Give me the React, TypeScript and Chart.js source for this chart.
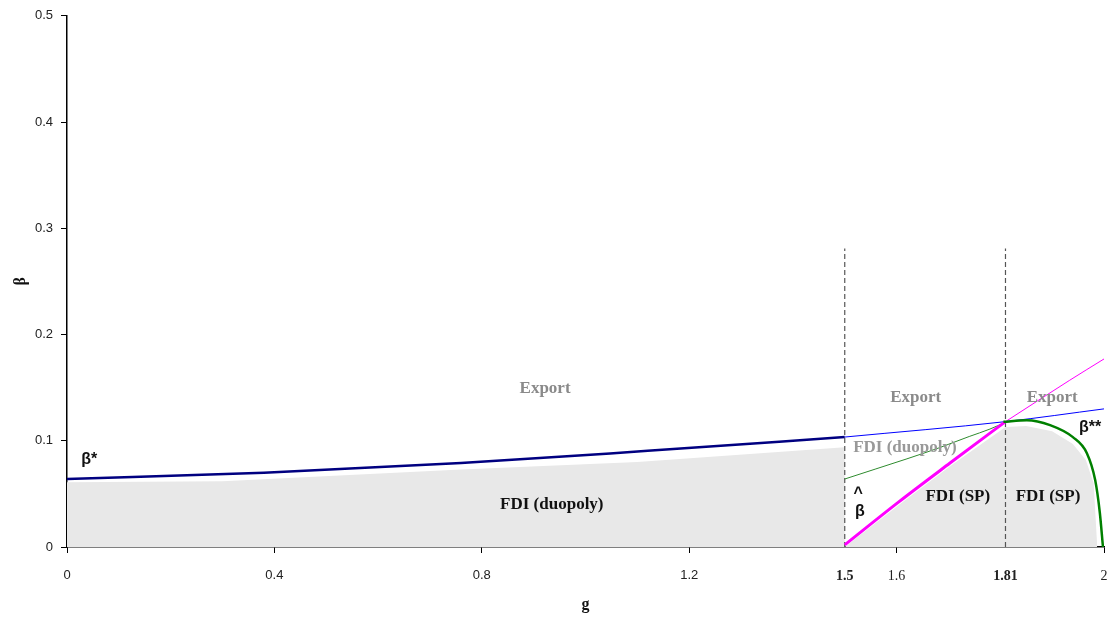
import React, { useEffect, useRef } from "react";
import { Chart, registerables } from "chart.js";

Chart.register(...registerables);

// beta* (thick navy, FDI duopoly vs export boundary)
const betaStarG = [0, 0.38, 0.76, 1.12, 1.5];
const betaStarV = [0.064, 0.0699, 0.079, 0.0905, 0.1035];
// beta* continued (thin blue)
const betaStarExtG = [1.5, 1.81, 2];
const betaStarExtV = [0.1035, 0.118, 0.13];
// beta-hat (thick magenta)
const betaHatG = [1.5, 1.603, 1.703, 1.81];
const betaHatV = [0.002, 0.042, 0.079, 0.118];
// beta-hat continued (thin magenta)
const betaHatExtG = [1.81, 1.934, 2];
const betaHatExtV = [0.118, 0.157, 0.177];
// FDI duopoly boundary (thin green)
const duoBoundG = [1.5, 1.56, 1.62, 1.68, 1.74, 1.78, 1.81];
const duoBoundV = [0.064, 0.0735, 0.083, 0.093, 0.104, 0.111, 0.1175];
// beta** (thick green)
const betaSSG = [1.806, 1.851, 1.896, 1.94, 1.967, 1.983, 1.992, 1.998];
const betaSSV = [0.1178, 0.1194, 0.1147, 0.1034, 0.0883, 0.063, 0.032, 0];
// FDI shaded region
const fdiAreaG = [0, 0.3, 0.76, 1.1, 1.5, 1.5, 1.603, 1.703, 1.81, 1.85, 1.9, 1.94, 1.965, 1.98, 1.987];
const fdiAreaV = [0.061, 0.062, 0.073, 0.08, 0.094, 0, 0.039, 0.076, 0.113, 0.114, 0.109, 0.097, 0.082, 0.06, 0];
// dashed cut-off lines
const cutoffG = [1.5, 1.81];
const cutoffV = [0, 0.281];

const xTicks = [0, 0.4, 0.8, 1.2, 1.5, 1.6, 1.81, 2];
const xTickLabels = ["0", "0.4", "0.8", "1.2", "1.5", "1.6", "1.81", "2"];
const xBoldTicks = [1.5, 1.81];
const xSerifTicks = [1.5, 1.6, 1.81, 2];
const yTicks = [0, 0.1, 0.2, 0.3, 0.4, 0.5];
const yTickLabels = ["0", "0.1", "0.2", "0.3", "0.4", "0.5"];

const regionLabels = [
  { text: "Export", g: 0.922, b: 0.149, color: "#8a8a8a", serif: true },
  { text: "Export", g: 1.637, b: 0.141, color: "#8a8a8a", serif: true },
  { text: "Export", g: 1.9, b: 0.141, color: "#8a8a8a", serif: true },
  { text: "FDI (duopoly)", g: 0.935, b: 0.0395, color: "#111111", serif: true },
  { text: "FDI (duopoly)", g: 1.616, b: 0.094, color: "#999999", serif: true },
  { text: "FDI (SP)", g: 1.718, b: 0.047, color: "#111111", serif: true },
  { text: "FDI (SP)", g: 1.892, b: 0.047, color: "#111111", serif: true },
  { text: "β*", g: 0.043, b: 0.082, color: "#111111", serif: false },
  { text: "β**", g: 1.973, b: 0.112, color: "#111111", serif: false },
  { text: "^", g: 1.526, b: 0.05, color: "#111111", serif: false },
  { text: "β", g: 1.529, b: 0.033, color: "#111111", serif: false },
];

const pts = (gs: number[], vs: number[]) => gs.map((g, i) => ({ x: g, y: vs[i] }));

const labelPlugin = {
  id: "regionLabels",
  afterDatasetsDraw(chart: any) {
    const { ctx, scales } = chart;
    ctx.save();
    ctx.textAlign = "center";
    ctx.textBaseline = "middle";
    for (const l of regionLabels) {
      ctx.font = l.serif ? "bold 17px 'Liberation Serif'" : "bold 16px 'Liberation Sans'";
      ctx.fillStyle = l.color;
      ctx.fillText(l.text, scales.x.getPixelForValue(l.g), scales.y.getPixelForValue(l.b));
    }
    ctx.restore();
  },
};

export default function App() {
  const ref = useRef<HTMLCanvasElement | null>(null);
  useEffect(() => {
    if (!ref.current) return;
    const line = (data: any, color: string, width: number, extra: any = {}) => ({
      data,
      borderColor: color,
      borderWidth: width,
      pointRadius: 0,
      fill: false,
      cubicInterpolationMode: "monotone",
      ...extra,
    });
    const chart = new Chart(ref.current, {
      type: "line",
      data: {
        datasets: [
          line(pts(betaSSG, betaSSV), "#008000", 2.5),
          line(pts(betaHatG, betaHatV), "#ff00ff", 3),
          line(pts(betaStarG, betaStarV), "#000080", 2.5),
          line(pts(betaStarExtG, betaStarExtV), "#0000ff", 1),
          line(pts(duoBoundG, duoBoundV), "#2e8b2e", 1),
          line(pts(betaHatExtG, betaHatExtV), "#ff00ff", 1),
          line(pts([cutoffG[0], cutoffG[0]], cutoffV), "#555555", 1.2, { borderDash: [5, 3], cubicInterpolationMode: "default", tension: 0 }),
          line(pts([cutoffG[1], cutoffG[1]], cutoffV), "#555555", 1.2, { borderDash: [5, 3], cubicInterpolationMode: "default", tension: 0 }),
          {
            data: pts(fdiAreaG, fdiAreaV),
            borderWidth: 0,
            borderColor: "rgba(0,0,0,0)",
            backgroundColor: "#e8e8e8",
            pointRadius: 0,
            fill: "origin",
            tension: 0,
          },
        ],
      },
      options: {
        animation: false,
        responsive: false,
        layout: { padding: { left: 0, right: 11, top: 15, bottom: 0 } },
        plugins: { legend: { display: false }, tooltip: { enabled: false } },
        scales: {
          x: {
            type: "linear",
            min: 0,
            max: 2,
            afterBuildTicks: (s: any) => {
              s.ticks = xTicks.map((v) => ({ value: v }));
            },
            afterFit: (s: any) => {
              s.height = 73;
              s.paddingLeft = 0;
              s.paddingRight = 0;
            },
            ticks: {
              autoSkip: false,
              maxRotation: 0,
              padding: 15,
              color: "#222222",
              callback: (_v: any, i: number) => xTickLabels[i],
              font: (c: any) => {
                const v = c.tick ? c.tick.value : 0;
                const serif = xSerifTicks.includes(v);
                return {
                  family: serif ? "'Liberation Serif'" : "'Liberation Sans'",
                  size: serif ? 14 : 13,
                  weight: xBoldTicks.includes(v) ? "bold" : "normal",
                };
              },
            },
            grid: {
              drawOnChartArea: false,
              drawTicks: true,
              tickLength: 6,
              tickColor: (c: any) =>
                c.tick && xBoldTicks.includes(c.tick.value) ? "rgba(0,0,0,0)" : "#000000",
            },
            border: { display: true, color: "#000000", width: 1.5 },
            title: {
              display: true,
              text: "g",
              color: "#111111",
              font: { family: "'Liberation Serif'", size: 16, weight: "bold" },
              padding: { top: 0, bottom: 6 },
            },
          },
          y: {
            type: "linear",
            min: 0,
            max: 0.5,
            afterBuildTicks: (s: any) => {
              s.ticks = yTicks.map((v) => ({ value: v }));
            },
            afterFit: (s: any) => {
              s.width = 67;
            },
            ticks: {
              padding: 8,
              color: "#222222",
              callback: (_v: any, i: number) => yTickLabels[i],
              font: { family: "'Liberation Sans'", size: 13 },
            },
            grid: {
              drawOnChartArea: false,
              drawTicks: true,
              tickLength: 6,
              tickColor: "#000000",
            },
            border: { display: true, color: "#000000", width: 1.5 },
            title: {
              display: true,
              text: "β",
              color: "#111111",
              font: { family: "'Liberation Serif'", size: 16, weight: "bold" },
              padding: { top: 11, bottom: 0 },
            },
          },
        },
      },
      plugins: [labelPlugin],
    } as any);
    return () => chart.destroy();
  }, []);
  return (
    <div style={{ position: "fixed", left: 0, top: 0, width: 1115, height: 620, background: "#fff" }}>
      <canvas ref={ref} width={1115} height={620} style={{ display: "block" }} />
    </div>
  );
}
